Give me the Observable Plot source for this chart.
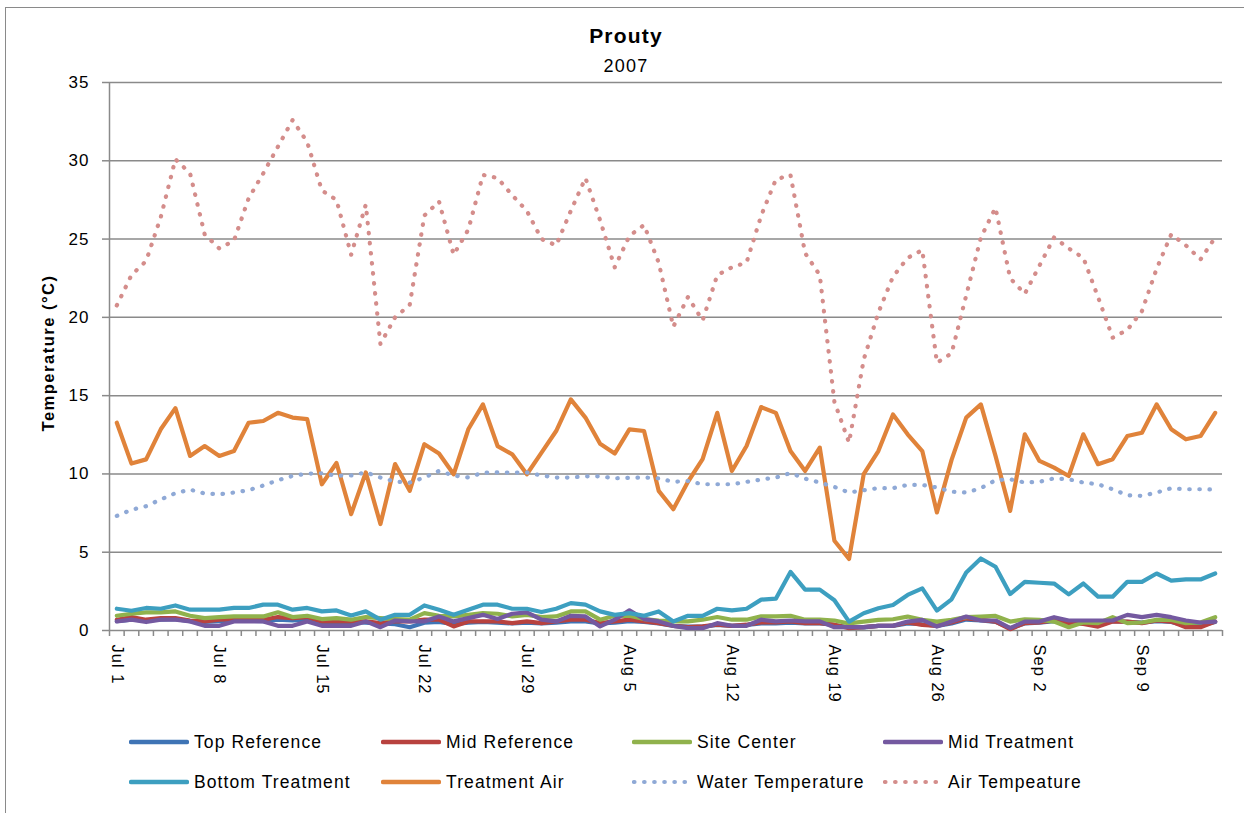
<!DOCTYPE html>
<html>
<head>
<meta charset="utf-8">
<script src="https://cdn.jsdelivr.net/npm/d3@7"></script>
<script src="https://cdn.jsdelivr.net/npm/@observablehq/plot@0.6"></script>
<style>
  html, body { margin: 0; padding: 0; background: #fff; overflow: hidden; }
  #wrap { position: relative; width: 1244px; height: 813px; font-family: "Liberation Sans", Arial, sans-serif; color: #000; }
  #frame { position: absolute; left: 5px; top: 7px; width: 1400px; height: 1000px; border: 1px solid #8a8a8a; box-sizing: border-box; }
  #title { position: absolute; left: 0; width: 1252px; top: 24px; text-align: center; font-weight: bold; font-size: 21px; letter-spacing: 1.2px; }
  #subtitle { position: absolute; left: 0; width: 1252px; top: 56px; text-align: center; font-size: 18px; letter-spacing: 1.2px; }
  #ylabel { position: absolute; left: 48px; top: 353px; transform: translate(-50%, -50%) rotate(-90deg); font-weight: bold; font-size: 16.5px; letter-spacing: 1.5px; white-space: nowrap; }
  #chart { position: absolute; left: 0; top: 72px; }
  #chart svg text { letter-spacing: 1px; }
  .leg { position: absolute; height: 20px; display: flex; align-items: center; font-size: 17.5px; letter-spacing: 1.1px; white-space: nowrap; }
  .leg svg { margin-right: 5px; }
</style>
</head>
<body>
<div id="wrap">
  <div id="frame"></div>
  <div id="title">Prouty</div>
  <div id="subtitle">2007</div>
  <div id="ylabel">Temperature (°C)</div>
  <div id="chart"></div>
  <div id="legend"></div>
</div>
<script>
// ---- Data (daily, Jul 1 – Sep 14, 2007) ----
const startDay = new Date(Date.UTC(2007, 6, 1));
const endDay = new Date(Date.UTC(2007, 8, 15));
const days = d3.utcDay.range(startDay, endDay);
const labelDays = ["Jul 1", "Jul 8", "Jul 15", "Jul 22", "Jul 29", "Aug 5", "Aug 12", "Aug 19", "Aug 26", "Sep 2", "Sep 9"];
const yTicks = [0, 5, 10, 15, 20, 25, 30, 35];

const topReference = [0.6, 0.7, 0.65, 0.7, 0.72, 0.6, 0.55, 0.6, 0.65, 0.62, 0.6, 0.7, 0.65, 0.7, 0.5, 0.5, 0.55, 0.5, 0.45, 0.4,
  0.21, 0.5, 0.55, 0.4, 0.5, 0.55, 0.5, 0.45, 0.5, 0.45, 0.5, 0.58, 0.58, 0.45, 0.5, 0.6, 0.55, 0.45, 0.3, 0.25,
  0.25, 0.35, 0.3, 0.35, 0.45, 0.45, 0.5, 0.45, 0.45, 0.35, 0.2, 0.2, 0.3, 0.3, 0.45, 0.4, 0.3, 0.45, 0.7, 0.65,
  0.55, 0.15, 0.45, 0.5, 0.6, 0.45, 0.45, 0.35, 0.6, 0.55, 0.5, 0.6, 0.55, 0.3, 0.3, 0.55];
const midReference = [0.69, 0.86, 0.69, 0.79, 0.79, 0.64, 0.58, 0.69, 0.73, 0.69, 0.69, 0.86, 0.79, 0.86, 0.58, 0.58, 0.58, 0.58, 0.47, 0.58,
  0.58, 0.69, 0.69, 0.26, 0.58, 0.58, 0.58, 0.47, 0.58, 0.47, 0.58, 0.69, 0.69, 0.47, 0.58, 0.69, 0.58, 0.47, 0.3, 0.21,
  0.26, 0.37, 0.3, 0.37, 0.52, 0.52, 0.58, 0.47, 0.47, 0.37, 0.15, 0.21, 0.3, 0.3, 0.51, 0.36, 0.3, 0.51, 0.78, 0.68,
  0.57, 0.08, 0.47, 0.51, 0.64, 0.47, 0.42, 0.25, 0.57, 0.57, 0.47, 0.64, 0.57, 0.21, 0.21, 0.57];
const siteCenter = [0.94, 1.07, 1.16, 1.16, 1.22, 0.94, 0.79, 0.86, 0.9, 0.9, 0.9, 1.16, 0.86, 0.94, 0.73, 0.79, 0.69, 0.86, 0.79, 0.73,
  0.69, 1.11, 0.94, 0.9, 1.0, 1.11, 1.07, 0.9, 1.0, 0.86, 0.9, 1.22, 1.22, 0.69, 0.94, 0.94, 0.73, 0.64, 0.58, 0.58,
  0.69, 0.86, 0.69, 0.69, 0.9, 0.9, 0.94, 0.69, 0.69, 0.64, 0.45, 0.57, 0.68, 0.72, 0.89, 0.68, 0.57, 0.68, 0.85, 0.89,
  0.93, 0.57, 0.72, 0.68, 0.57, 0.21, 0.51, 0.47, 0.85, 0.47, 0.51, 0.68, 0.68, 0.47, 0.51, 0.85];
const midTreatment = [0.58, 0.69, 0.54, 0.69, 0.69, 0.58, 0.3, 0.3, 0.58, 0.58, 0.58, 0.3, 0.3, 0.58, 0.3, 0.3, 0.3, 0.58, 0.21, 0.64,
  0.58, 0.58, 0.9, 0.58, 0.79, 1.0, 0.73, 1.07, 1.16, 0.69, 0.58, 0.94, 0.9, 0.26, 0.69, 1.29, 0.73, 0.58, 0.3, 0.15,
  0.15, 0.47, 0.3, 0.3, 0.69, 0.58, 0.64, 0.58, 0.58, 0.21, 0.21, 0.21, 0.3, 0.3, 0.57, 0.68, 0.25, 0.57, 0.89, 0.64,
  0.64, 0.15, 0.57, 0.57, 0.85, 0.64, 0.64, 0.64, 0.64, 1.0, 0.85, 1.0, 0.85, 0.64, 0.51, 0.57];
const bottomTreatment = [1.39, 1.26, 1.44, 1.39, 1.6, 1.33, 1.33, 1.33, 1.44, 1.44, 1.65, 1.65, 1.33, 1.44, 1.22, 1.28, 0.96, 1.22, 0.69, 1.0,
  1.0, 1.6, 1.33, 1.0, 1.33, 1.65, 1.65, 1.39, 1.39, 1.18, 1.39, 1.75, 1.65, 1.22, 1.0, 1.11, 0.94, 1.22, 0.58, 0.94,
  0.94, 1.39, 1.28, 1.39, 1.97, 2.03, 3.74, 2.61, 2.61, 1.93, 0.57, 1.1, 1.42, 1.63, 2.27, 2.69, 1.27, 1.99, 3.71, 4.6,
  4.07, 2.33, 3.11, 3.05, 3.0, 2.31, 3.0, 2.16, 2.16, 3.11, 3.11, 3.64, 3.18, 3.26, 3.26, 3.64];
const treatmentAir = [13.27, 10.66, 10.93, 12.85, 14.2, 11.15, 11.78, 11.15, 11.46, 13.27, 13.38, 13.9, 13.6, 13.5, 9.34, 10.7, 7.43, 10.1, 6.8, 10.63,
  8.92, 11.9, 11.3, 9.98, 12.85, 14.44, 11.78, 11.25, 9.98, 11.36, 12.74, 14.76, 13.6, 11.93, 11.3, 12.85, 12.74, 8.92, 7.75, 9.5,
  10.94, 13.9, 10.19, 11.78, 14.27, 13.9, 11.46, 10.19, 11.68, 5.73, 4.57, 9.98, 11.46, 13.8, 12.53, 11.46, 7.54, 10.9, 13.6, 14.44,
  11.15, 7.64, 12.53, 10.83, 10.4, 9.87, 12.53, 10.62, 10.94, 12.42, 12.63, 14.44, 12.85, 12.21, 12.42, 13.9];
const waterTemperature = [7.32, 7.71, 7.94, 8.37, 8.77, 9.0, 8.75, 8.7, 8.81, 8.96, 9.26, 9.6, 9.87, 10.02, 10.04, 9.89, 9.9, 10.1, 9.77, 9.51,
  9.45, 9.77, 10.19, 9.9, 9.77, 10.08, 10.1, 10.08, 10.1, 9.9, 9.77, 9.77, 9.85, 9.85, 9.72, 9.75, 9.77, 9.72, 9.5, 9.55,
  9.34, 9.34, 9.34, 9.49, 9.64, 9.77, 10.06, 9.7, 9.45, 9.17, 8.81, 8.96, 9.09, 9.09, 9.3, 9.3, 9.13, 8.87, 8.81, 9.09,
  9.6, 9.66, 9.45, 9.5, 9.72, 9.66, 9.45, 9.34, 9.02, 8.64, 8.6, 8.81, 9.09, 9.02, 9.02, 9.0];
const airTemperature = [20.76, 22.7, 23.6, 26.4, 30.1, 29.2, 25.3, 24.4, 24.9, 27.6, 29.2, 30.9, 32.6, 31.2, 28.1, 27.5, 24.0, 27.2, 18.3, 20.0,
  20.8, 26.5, 27.4, 24.0, 25.6, 29.1, 28.9, 27.8, 26.8, 25.0, 24.6, 26.8, 28.9, 26.2, 23.2, 25.2, 25.9, 23.5, 19.4, 21.3,
  19.8, 22.7, 23.2, 23.5, 26.5, 28.8, 29.1, 24.1, 22.7, 14.6, 12.0, 17.3, 20.3, 22.6, 23.8, 24.3, 17.1, 17.7, 21.4, 25.1,
  27.0, 22.5, 21.5, 23.3, 25.1, 24.4, 23.8, 21.3, 18.7, 19.2, 20.4, 23.1, 25.3, 24.6, 23.7, 25.1];

const seriesNames = ["Top Reference", "Mid Reference", "Site Center", "Mid Treatment", "Bottom Treatment", "Treatment Air", "Water Temperature", "Air Tempeature"];
const seriesValues = [topReference, midReference, siteCenter, midTreatment, bottomTreatment, treatmentAir, waterTemperature, airTemperature];
const seriesColors = ["#3F74B5", "#B8423F", "#90B24C", "#7459A0", "#3D9FC0", "#E0833A", "#8FA9D6", "#D48D8B"];
const seriesDotted = [false, false, false, false, false, false, true, true];

// ---- Build ----
const fmt = d3.utcFormat("%b %-d");
const HALF = 12 * 3600 * 1000;
const xDomain = [new Date(days[0].getTime() - HALF), new Date(days[days.length - 1].getTime() + HALF)];
const boundaries = days.map(d => new Date(d.getTime() - HALF)).concat([xDomain[1]]);
const labelTicks = days.filter(d => labelDays.includes(fmt(d)));
const gridColor = "#8a8a8a";

const lineMarks = seriesValues.map((vals, k) => {
  const rows = vals.map((v, i) => ({date: days[i], value: v}));
  return Plot.line(rows, {
    x: "date", y: "value",
    stroke: seriesColors[k],
    strokeWidth: seriesDotted[k] ? 4.2 : 4.2,
    strokeLinejoin: "round",
    strokeLinecap: "round",
    strokeDasharray: seriesDotted[k] ? "0.5 9.6" : null
  });
});

const chart = Plot.plot({
  width: 1244,
  height: 650,
  marginTop: 10,
  marginBottom: 92,
  marginLeft: 109,
  marginRight: 22,
  style: {fontFamily: "'Liberation Sans', Arial, sans-serif", fontSize: "17px", color: "#000", background: "transparent"},
  x: {type: "utc", domain: xDomain, label: null},
  y: {domain: [0, 35], label: null},
  marks: [
    Plot.ruleY(yTicks.filter(t => t > 0), {stroke: gridColor, strokeWidth: 1.5}),
    Plot.ruleY([0], {stroke: gridColor, strokeWidth: 1.5}),
    Plot.ruleX([xDomain[0]], {y1: 0, y2: 35, stroke: gridColor, strokeWidth: 1.5}),
    Plot.axisY({ticks: yTicks, tickSize: 7, tickPadding: 13, stroke: gridColor, strokeWidth: 1.5, fill: "#000", fontSize: 17, label: null}),
    Plot.axisX({ticks: boundaries, tickSize: 6, tickFormat: () => "", stroke: gridColor, strokeWidth: 1.5, label: null}),
    Plot.axisX({ticks: labelTicks, tickSize: 0, tickPadding: 14, tickRotate: 90, tickFormat: fmt, fill: "#000", fontSize: 16.5, label: null}),
    ...lineMarks
  ]
});
document.getElementById("chart").appendChild(chart);

// ---- Legend ----
const legend = document.getElementById("legend");
const legX = [129, 381, 632, 883];
const legY = [742, 782];
seriesNames.forEach((name, k) => {
  const item = document.createElement("div");
  item.className = "leg";
  item.style.left = legX[k % 4] + "px";
  item.style.top = (legY[Math.floor(k / 4)] - 10) + "px";
  const dotted = seriesDotted[k];
  item.innerHTML = `<svg width="60" height="12"><line x1="2" y1="6" x2="58" y2="6" stroke="${seriesColors[k]}" stroke-width="${dotted ? 4.2 : 4.5}" stroke-linecap="round" ${dotted ? 'stroke-dasharray="0.5 9.6"' : ''}/></svg><span>${name}</span>`;
  legend.appendChild(item);
});
</script>
</body>
</html>
